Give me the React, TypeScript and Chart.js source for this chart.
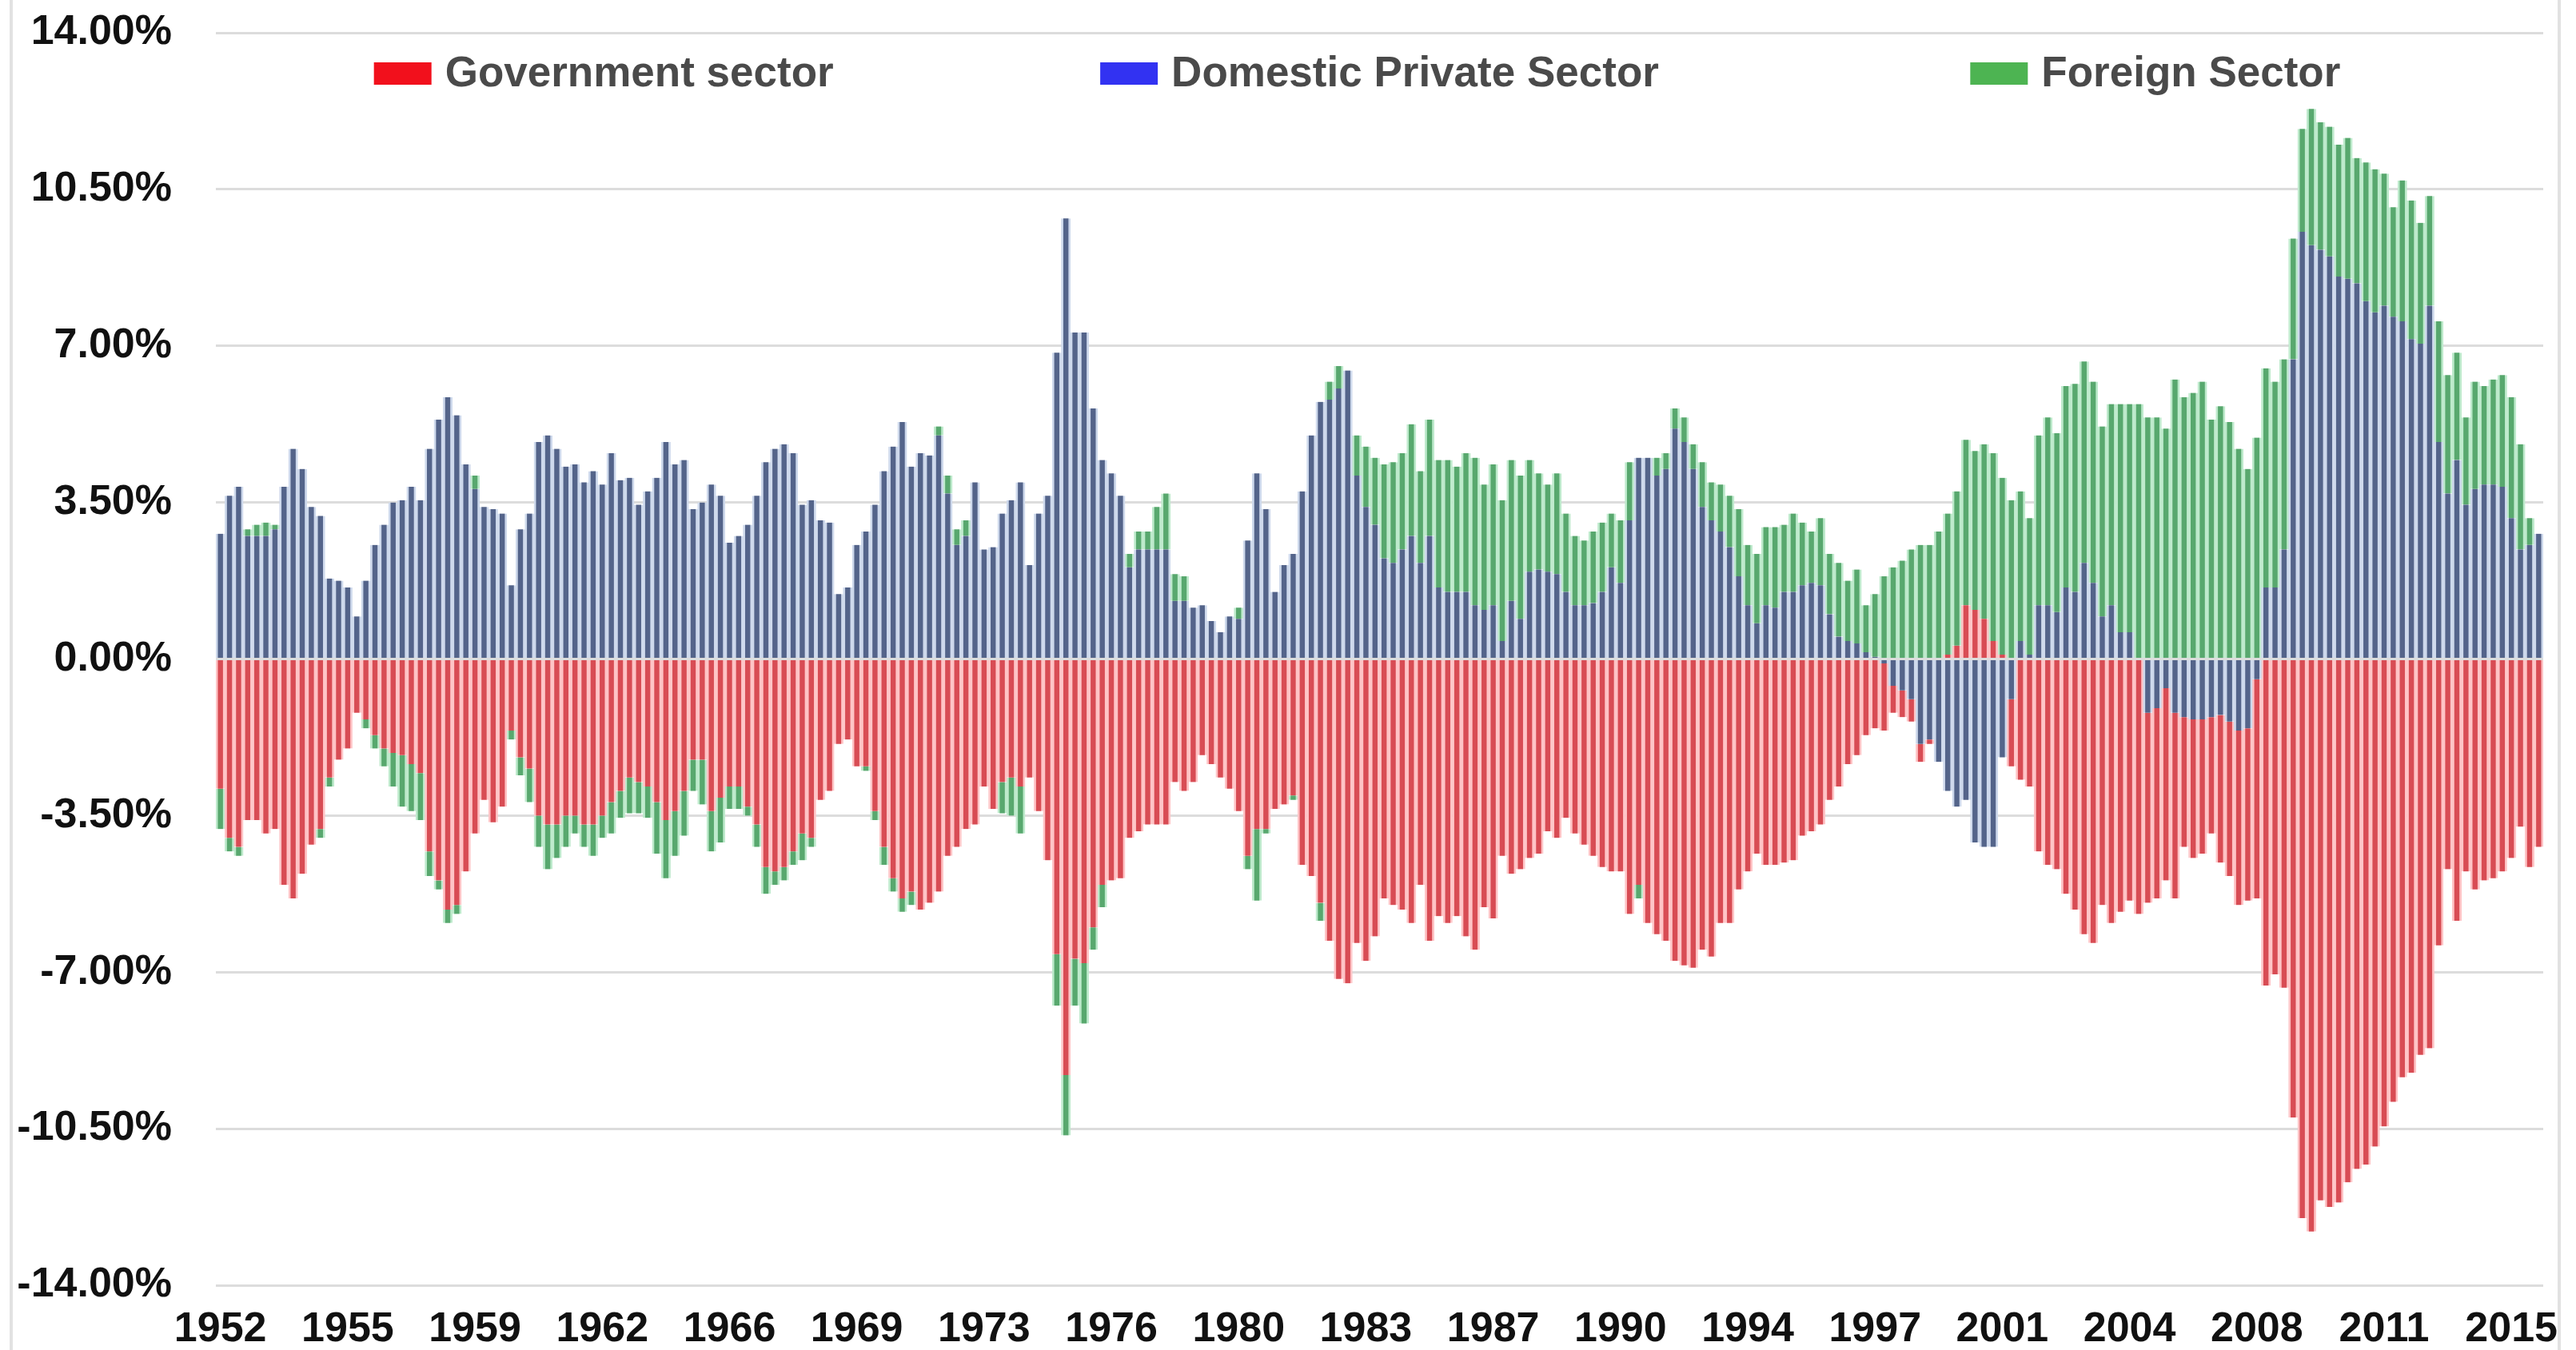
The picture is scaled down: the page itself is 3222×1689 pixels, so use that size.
import React, { useEffect, useRef } from 'react';
import { Chart, registerables } from 'chart.js';

Chart.register(...registerables);

// Quarterly categories 1952Q1 .. 2015Q4
const FIRST_YEAR = 1952;
const LAST_YEAR = 2015;
const quarters: string[] = [];
for (let y = FIRST_YEAR; y <= LAST_YEAR; y++) {
  for (let q = 1; q <= 4; q++) quarters.push(`${y}Q${q}`);
}

// Quarters that carry an x-axis label, and the label shown
const tickQuarters = [
  '1952Q1', '1955Q3', '1959Q1', '1962Q3', '1966Q1', '1969Q3', '1973Q1', '1976Q3', '1980Q1', '1983Q3',
  '1987Q1', '1990Q3', '1994Q1', '1997Q3', '2001Q1', '2004Q3', '2008Q1', '2011Q3', '2015Q1',
];
const tickYears = [
  '1952', '1955', '1959', '1962', '1966', '1969', '1973', '1976', '1980', '1983',
  '1987', '1990', '1994', '1997', '2001', '2004', '2008', '2011', '2015',
];

// Sector balances, % of GDP
const privateSector = [
  2.8, 3.65, 3.85, 2.75, 2.75, 2.75, 2.9, 3.85,
  4.7, 4.25, 3.4, 3.2, 1.8, 1.75, 1.6, 0.95,
  1.75, 2.55, 3.0, 3.5, 3.55, 3.85, 3.55, 4.7,
  5.35, 5.85, 5.45, 4.35, 3.8, 3.4, 3.35, 3.25,
  1.65, 2.9, 3.25, 4.85, 5.0, 4.7, 4.3, 4.35,
  3.95, 4.2, 3.9, 4.6, 4.0, 4.05, 3.45, 3.75,
  4.05, 4.85, 4.35, 4.45, 3.35, 3.5, 3.9, 3.65,
  2.6, 2.75, 3.0, 3.65, 4.4, 4.7, 4.8, 4.6,
  3.45, 3.55, 3.1, 3.05, 1.45, 1.6, 2.55, 2.85,
  3.45, 4.2, 4.75, 5.3, 4.3, 4.6, 4.55, 5.0,
  3.7, 2.55, 2.75, 3.95, 2.45, 2.5, 3.25, 3.55,
  3.95, 2.1, 3.25, 3.65, 6.85, 9.85, 7.3, 7.3,
  5.6, 4.45, 4.15, 3.65, 2.05, 2.45, 2.45, 2.45,
  2.45, 1.3, 1.3, 1.15, 1.2, 0.85, 0.6, 0.95,
  0.9, 2.65, 4.15, 3.35, 1.5, 2.1, 2.35, 3.75,
  5.0, 5.75, 5.8, 6.05, 6.45, 4.1, 3.4, 3.0,
  2.25, 2.15, 2.45, 2.75, 2.15, 2.75, 1.6, 1.5,
  1.5, 1.5, 1.2, 1.1, 1.2, 0.4, 1.3, 0.9,
  1.95, 2.0, 1.95, 1.9, 1.5, 1.2, 1.2, 1.25,
  1.5, 2.05, 1.7, 3.1, 4.5, 4.5, 4.1, 4.25,
  5.15, 4.85, 4.25, 3.4, 3.1, 2.85, 2.5, 1.85,
  1.2, 0.8, 1.2, 1.15, 1.5, 1.5, 1.65, 1.7,
  1.65, 1.0, 0.5, 0.4, 0.35, 0.15, 0.05, -0.1,
  -0.6, -0.7, -0.9, -1.9, -1.8, -2.3, -2.95, -3.3,
  -3.15, -4.1, -4.2, -4.2, -2.2, -0.9, 0.4, 0.1,
  1.2, 1.2, 1.05, 1.6, 1.5, 2.15, 1.7, 0.95,
  1.2, 0.6, 0.6, 0.0, -1.2, -1.1, -0.65, -1.2,
  -1.3, -1.35, -1.35, -1.3, -1.25, -1.4, -1.6, -1.55,
  -0.45, 1.6, 1.6, 2.45, 6.7, 9.55, 9.25, 9.15,
  9.0, 8.55, 8.5, 8.4, 8.0, 7.75, 7.9, 7.65,
  7.55, 7.15, 7.05, 7.9, 4.85, 3.7, 4.45, 3.45,
  3.8, 3.9, 3.9, 3.85, 3.15, 2.45, 2.55, 2.8,
];

const governmentSector = [
  -2.9, -4.0, -4.2, -3.6, -3.6, -3.9, -3.8, -5.05,
  -5.35, -4.8, -4.15, -3.8, -2.65, -2.25, -2.0, -1.2,
  -1.35, -1.7, -2.0, -2.1, -2.15, -2.35, -2.55, -4.3,
  -4.95, -5.6, -5.5, -4.75, -3.9, -3.15, -3.65, -3.3,
  -1.6, -2.2, -2.45, -3.5, -3.7, -3.7, -3.5, -3.5,
  -3.7, -3.7, -3.5, -3.2, -2.95, -2.65, -2.75, -2.85,
  -3.2, -3.6, -3.4, -2.95, -2.25, -2.25, -3.4, -3.1,
  -2.85, -2.85, -3.3, -3.7, -4.65, -4.75, -4.65, -4.3,
  -3.9, -4.0, -3.15, -2.95, -1.9, -1.8, -2.4, -2.4,
  -3.4, -4.2, -4.9, -5.35, -5.2, -5.6, -5.45, -5.2,
  -4.4, -4.2, -3.8, -3.7, -2.85, -3.35, -2.75, -2.65,
  -2.85, -2.65, -3.4, -4.5, -6.6, -9.3, -6.7, -6.8,
  -6.0, -5.05, -4.95, -4.9, -4.0, -3.85, -3.7, -3.7,
  -3.7, -2.75, -2.95, -2.75, -2.15, -2.35, -2.65, -2.9,
  -3.4, -4.4, -3.8, -3.8, -3.35, -3.25, -3.05, -4.6,
  -4.85, -5.45, -6.3, -7.15, -7.25, -6.35, -6.75, -6.2,
  -5.35, -5.5, -5.6, -5.9, -5.05, -6.3, -5.75, -5.9,
  -5.75, -6.2, -6.5, -5.55, -5.8, -4.4, -4.8, -4.7,
  -4.45, -4.35, -3.85, -4.0, -3.55, -3.9, -4.15, -4.4,
  -4.65, -4.75, -4.75, -5.7, -5.05, -5.9, -6.15, -6.3,
  -6.75, -6.85, -6.9, -6.5, -6.65, -5.9, -5.9, -5.15,
  -4.75, -4.35, -4.6, -4.6, -4.55, -4.5, -3.95, -3.85,
  -3.7, -3.15, -2.85, -2.35, -2.15, -1.7, -1.55, -1.5,
  -0.6, -0.6, -0.5, -0.4, -0.1, 0.0, 0.1, 0.3,
  1.2, 1.1, 0.9, 0.4, 0.1, -1.5, -2.7, -2.85,
  -4.3, -4.6, -4.7, -5.25, -5.6, -6.15, -6.35, -5.5,
  -5.9, -5.65, -5.4, -5.7, -4.25, -4.25, -4.3, -4.15,
  -2.9, -3.1, -3.0, -2.6, -3.3, -3.45, -3.9, -3.85,
  -4.9, -7.3, -7.05, -7.35, -10.25, -12.5, -12.8, -12.1,
  -12.25, -12.15, -11.7, -11.4, -11.3, -10.9, -10.45, -9.9,
  -9.35, -9.25, -8.85, -8.7, -6.4, -4.7, -5.85, -4.75,
  -5.15, -4.95, -4.9, -4.75, -4.45, -3.75, -4.65, -4.2,
];

const foreignSector = [
  -0.9, -0.3, -0.2, 0.15, 0.25, 0.3, 0.1, 0,
  0, 0, 0, -0.2, -0.2, 0, 0, 0,
  -0.2, -0.3, -0.4, -0.75, -1.15, -1.05, -1.05, -0.55,
  -0.2, -0.3, -0.2, 0, 0.3, 0, 0, 0,
  -0.2, -0.4, -0.75, -0.7, -1.0, -0.75, -0.7, -0.4,
  -0.5, -0.7, -0.5, -0.7, -0.6, -0.8, -0.7, -0.7,
  -1.15, -1.3, -1.0, -1.0, -0.7, -1.0, -0.9, -1.0,
  -0.5, -0.5, -0.2, -0.5, -0.6, -0.3, -0.3, -0.3,
  -0.6, -0.2, 0, 0, 0, 0, 0, -0.1,
  -0.2, -0.4, -0.3, -0.3, -0.3, 0, 0, 0.2,
  0.4, 0.35, 0.35, 0, 0, 0, -0.7, -0.85,
  -1.05, 0, 0, 0, -1.15, -1.35, -1.05, -1.35,
  -0.5, -0.5, 0, 0, 0.3, 0.4, 0.4, 0.95,
  1.25, 0.6, 0.55, 0, 0, 0, 0, 0,
  0.25, -0.3, -1.6, -0.1, 0, 0, -0.1, 0,
  0, -0.4, 0.4, 0.5, 0, 0.9, 1.35, 1.5,
  2.1, 2.25, 2.15, 2.5, 2.05, 2.6, 2.85, 2.95,
  2.8, 3.1, 3.3, 2.8, 3.15, 3.15, 3.15, 3.2,
  2.5, 2.15, 1.95, 2.25, 1.75, 1.55, 1.45, 1.6,
  1.55, 1.2, 1.4, 1.3, -0.3, 0, 0.4, 0.35,
  0.45, 0.55, 0.55, 1.0, 0.85, 1.05, 1.15, 1.5,
  1.35, 1.55, 1.75, 1.8, 1.5, 1.75, 1.4, 1.15,
  1.5, 1.35, 1.65, 1.35, 1.65, 1.05, 1.4, 1.85,
  2.05, 2.2, 2.45, 2.55, 2.55, 2.85, 3.15, 3.45,
  3.7, 3.55, 3.9, 4.2, 3.95, 3.55, 3.35, 3.05,
  3.8, 4.2, 4.0, 4.5, 4.65, 4.5, 4.5, 4.25,
  4.5, 5.1, 5.1, 5.7, 5.4, 5.4, 5.15, 6.25,
  5.85, 5.95, 6.2, 5.35, 5.65, 5.3, 4.7, 4.25,
  4.95, 4.9, 4.6, 4.25, 2.7, 2.3, 3.05, 2.85,
  2.9, 2.95, 3.15, 2.8, 3.1, 3.2, 2.95, 2.45,
  3.15, 3.1, 2.7, 2.45, 2.7, 2.65, 2.4, 1.95,
  2.4, 2.2, 2.35, 2.5, 2.7, 2.35, 0.6, 0,
];

// Legend entries (display order) with their swatch colours
const legendLabels = ['Government sector', 'Domestic Private Sector', 'Foreign Sector'];
const legendColors = ['#f2101c', '#3232f2', '#4db452'];

const FONT_FAMILY = '"Liberation Sans", Arial, Helvetica, sans-serif';

const thirdsLegend = {
  id: 'thirdsLegend',
  afterDraw(chart: any) {
    const { ctx, chartArea } = chart;
    const colW = (chartArea.right - chartArea.left) / 3;
    const boxW = 72;
    const boxH = 28;
    const gap = 17;
    const cy = chartArea.top + 51;
    ctx.save();
    ctx.font = `bold 53px ${FONT_FAMILY}`;
    ctx.textBaseline = 'middle';
    ctx.textAlign = 'left';
    legendLabels.forEach((label, j) => {
      const tw = ctx.measureText(label).width;
      const total = boxW + gap + tw;
      const cx = chartArea.left + (j + 0.5) * colW;
      const x0 = cx - total / 2;
      ctx.fillStyle = legendColors[j];
      ctx.fillRect(x0, cy - boxH / 2, boxW, boxH);
      ctx.fillStyle = '#4a4a4a';
      ctx.fillText(label, x0 + boxW + gap, cy + 1);
    });
    ctx.restore();
  },
};

const barSides = { left: 2.8, right: 2.8, top: 0, bottom: 0 };

export default function App() {
  const ref = useRef<HTMLCanvasElement | null>(null);

  useEffect(() => {
    document.body.style.margin = '0';
    const canvas = ref.current;
    if (!canvas) return;
    const tickFont = { family: FONT_FAMILY, size: 52, weight: 'bold' as const, lineHeight: 1 };
    const chart = new Chart(canvas, {
      type: 'bar',
      data: {
        labels: quarters,
        datasets: [
          {
            label: 'Domestic Private Sector', data: privateSector,
            backgroundColor: 'rgb(84,100,138)', borderColor: 'rgb(206,217,236)',
            borderWidth: barSides, borderSkipped: false,
          },
          {
            label: 'Government sector', data: governmentSector,
            backgroundColor: 'rgb(216,76,84)', borderColor: 'rgb(255,196,198)',
            borderWidth: barSides, borderSkipped: false,
          },
          {
            label: 'Foreign Sector', data: foreignSector,
            backgroundColor: 'rgb(88,168,110)', borderColor: 'rgb(190,234,204)',
            borderWidth: barSides, borderSkipped: false,
          },
        ],
      },
      options: {
        responsive: false,
        animation: false,
        devicePixelRatio: 1,
        layout: { padding: { left: 22, right: 41, top: 41, bottom: 6 } },
        datasets: { bar: { barPercentage: 1, categoryPercentage: 1 } },
        plugins: { legend: { display: false }, tooltip: { enabled: false } },
        scales: {
          x: {
            stacked: true,
            grid: { display: false, drawTicks: false },
            border: { display: false },
            ticks: {
              autoSkip: false,
              maxRotation: 0,
              minRotation: 0,
              padding: 30,
              color: '#111111',
              font: tickFont,
              callback: (_v: any, i: number) => {
                const k = tickQuarters.indexOf(quarters[i]);
                return k >= 0 ? tickYears[k] : '';
              },
            },
            afterFit: (s: any) => { s.height = 75; },
          },
          y: {
            stacked: true,
            min: -14,
            max: 14,
            grid: { color: '#dcdcdc', lineWidth: 3, drawTicks: false },
            border: { display: false },
            ticks: {
              stepSize: 3.5,
              padding: 55,
              color: '#111111',
              font: tickFont,
              callback: (v: any) => `${Number(v).toFixed(2)}%`,
            },
            afterFit: (s: any) => {
              s.width = 248;
              s.paddingTop = 0;
              s.paddingBottom = 0;
            },
          },
        },
      },
      plugins: [thirdsLegend],
    });
    return () => chart.destroy();
  }, []);

  return (
    <div style={{ position: 'relative', width: 3222, height: 1689, background: '#ffffff', overflow: 'hidden' }}>
      <canvas ref={ref} width={3222} height={1689} style={{ display: 'block' }} />
      <div style={{ position: 'absolute', left: 12, top: 0, width: 4, height: 1689, background: '#e2e2e2' }} />
      <div style={{ position: 'absolute', left: 3199, top: 0, width: 4, height: 1689, background: '#e2e2e2' }} />
    </div>
  );
}
